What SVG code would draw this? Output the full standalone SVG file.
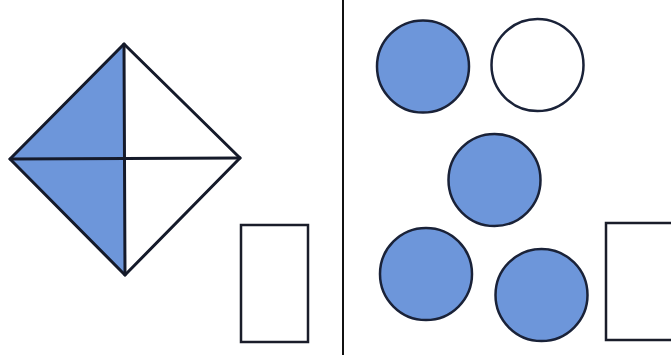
<svg xmlns="http://www.w3.org/2000/svg" width="671" height="355" viewBox="0 0 671 355">
<style>
.ln{stroke:#151a2a;stroke-width:3;fill:none;stroke-linejoin:round;stroke-linecap:round}
.blue{fill:#6d96da}
.c{stroke:#1a2238;stroke-width:2.5}
.box{fill:#fff;stroke:#1a1d2a;stroke-width:2.5}
</style>
<rect width="671" height="355" fill="#fff"/>
<g id="diamond">
<polygon class="blue" points="124,44 10,159 125,275"/>
<polygon class="ln" points="124,44 240,158 125,275 10,159"/>
<line class="ln" x1="124" y1="44" x2="125" y2="275"/>
<line class="ln" x1="10" y1="159" x2="240" y2="158"/>
</g>
<g id="rect-left"><rect class="box" x="241" y="225" width="67" height="117"/></g>
<g id="divider"><line x1="343" y1="0" x2="343" y2="355" stroke="#111" stroke-width="2"/></g>
<g id="circle1"><circle class="blue c" cx="423" cy="66.5" r="46"/></g>
<g id="circle2"><circle class="c" fill="#fff" cx="537.5" cy="65" r="46"/></g>
<g id="circle3"><circle class="blue c" cx="494.5" cy="180" r="46"/></g>
<g id="circle4"><circle class="blue c" cx="426" cy="274" r="46"/></g>
<g id="circle5"><circle class="blue c" cx="541.5" cy="295" r="46"/></g>
<g id="rect-right"><rect class="box" x="606" y="223" width="80" height="117"/></g>
</svg>
